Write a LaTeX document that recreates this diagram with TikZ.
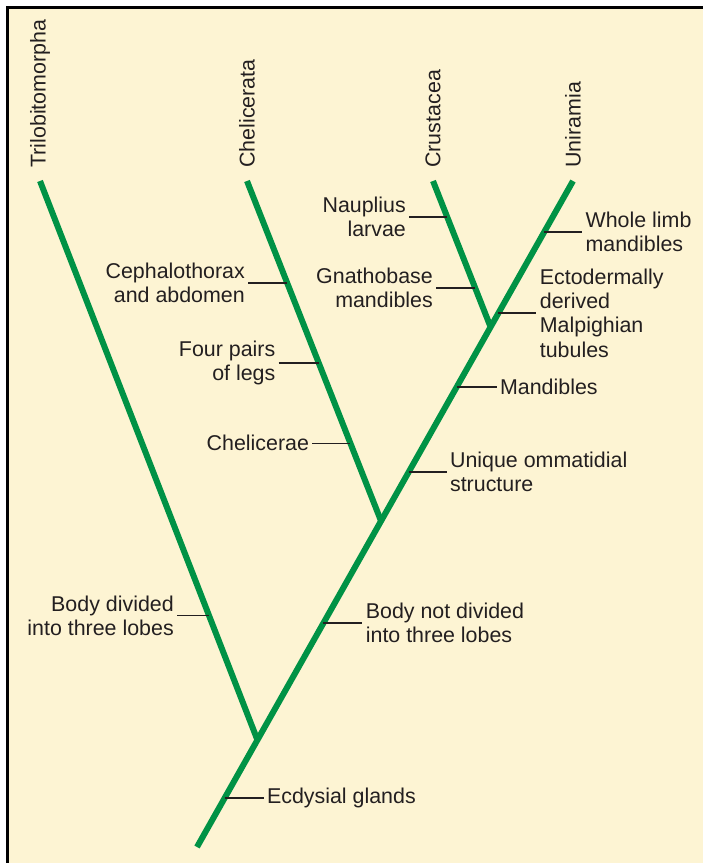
\documentclass[tikz,border=0pt]{standalone}
\usepackage{fontspec}
\setmainfont{Liberation Sans}
\usetikzlibrary{positioning}
\definecolor{cladegreen}{RGB}{0,146,69}
\definecolor{paper}{RGB}{253,244,211}
\definecolor{ink}{RGB}{35,31,32}

\begin{document}
\begin{tikzpicture}[x=0.5pt,y=-0.5pt,
  branch/.style={cladegreen,line width=3pt},
  tick/.style={ink,line width=0.6pt},
  lbl/.style={font=\fontsize{10.7}{12.2}\selectfont,text=ink,inner sep=1.5pt},
  lbll/.style={lbl,align=right},
  lblr/.style={lbl,align=left},
  taxon/.style={lbl,rotate=90}]
  \useasboundingbox (0,0) rectangle (703,863);
  \fill[white] (0,0) rectangle (703,863);
  \fill[paper] (7.5,7.5) rectangle (703,863);
  \draw[line width=1.5pt] (7.5,863) -- (7.5,7.5) -- (703,7.5);
  %tree
  \coordinate (base) at (197,847);
  \coordinate (uni-top) at (573,181);
  \coordinate (tri-top) at (40,181);
  \coordinate (chel-top) at (247,181);
  \coordinate (crus-top) at (433,181);
  \path (base) -- (uni-top) coordinate[pos=0.1607] (root) coordinate[pos=0.4895] (chel) coordinate[pos=0.7808] (crus);
  \draw[branch] (base) -- (uni-top);
  \draw[branch] (root) -- (tri-top);
  \draw[branch] (chel) -- (chel-top);
  \draw[branch] (crus) -- (crus-top);
  %taxa
  \node[taxon,above=5pt of tri-top,anchor=west] (trilobitomorpha) {Trilobitomorpha};
  \node[taxon,above=5pt of chel-top,anchor=west] (chelicerata) {Chelicerata};
  \node[taxon,above=5pt of crus-top,anchor=west] (crustacea) {Crustacea};
  \node[taxon,above=5pt of uni-top,anchor=west] (uniramia) {Uniramia};
  %tick points
  \path (base) -- (uni-top) coordinate[pos=0.0736] (t-ecd) coordinate[pos=0.3363] (t-bodynot) coordinate[pos=0.563] (t-omm) coordinate[pos=0.6907] (t-mand) coordinate[pos=0.8018] (t-malp) coordinate[pos=0.9234] (t-whole);
  \path (root) -- (tri-top) coordinate[pos=0.222] (t-body);
  \path (chel) -- (chel-top) coordinate[pos=0.229] (t-chelic) coordinate[pos=0.465] (t-legs) coordinate[pos=0.7] (t-ceph);
  \path (crus) -- (crus-top) coordinate[pos=0.267] (t-gnath) coordinate[pos=0.753] (t-naup);
  %left characters
  \node[lbll,left=16pt of t-body] (body) {Body divided\\into three lobes};
  \node[lbll,left=19pt of t-chelic] (chelic) {Chelicerae};
  \node[lbll,left=20pt of t-legs] (legs) {Four pairs\\of legs};
  \node[lbll,left=19.5pt of t-ceph] (ceph) {Cephalothorax\\and abdomen};
  \node[lbll,left=19.5pt of t-gnath] (gnath) {Gnathobase\\mandibles};
  \node[lbll,left=19pt of t-naup] (naup) {Nauplius\\larvae};
  \draw[tick] (body.east) -- (t-body);
  \draw[tick] (chelic.east) -- (t-chelic);
  \draw[tick] (legs.east) -- (t-legs);
  \draw[tick] (ceph.east) -- (t-ceph);
  \draw[tick] (gnath.east) -- (t-gnath);
  \draw[tick] (naup.east) -- (t-naup);
  %right characters
  \node[lblr,right=19.5pt of t-ecd] (ecd) {Ecdysial glands};
  \node[lblr,right=19.5pt of t-bodynot] (bodynot) {Body not divided\\into three lobes};
  \node[lblr,right=19pt of t-omm] (omm) {Unique ommatidial\\structure};
  \node[lblr,right=20pt of t-mand] (mand) {Mandibles};
  \node[lblr,right=19pt of t-malp] (malp) {Ectodermally\\derived\\Malpighian\\tubules};
  \node[lblr,right=19pt of t-whole] (whole) {Whole limb\\mandibles};
  \draw[tick] (t-ecd) -- (ecd.west);
  \draw[tick] (t-bodynot) -- (bodynot.west);
  \draw[tick] (t-omm) -- (omm.west);
  \draw[tick] (t-mand) -- (mand.west);
  \draw[tick] (t-malp) -- (malp.west);
  \draw[tick] (t-whole) -- (whole.west);
\end{tikzpicture}
\end{document}
